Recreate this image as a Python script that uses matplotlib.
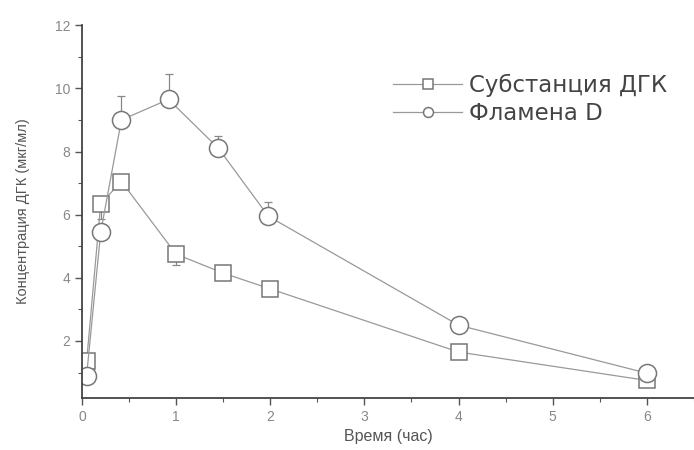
import matplotlib
matplotlib.use("Agg")
import matplotlib.pyplot as plt
from matplotlib.ticker import MultipleLocator

plt.rcParams['font.family'] = ['Liberation Sans', 'DejaVu Sans']

time_sub = [0.05, 0.2, 0.42, 1.0, 1.5, 2.0, 4.0, 6.0]
conc_sub = [1.35, 6.35, 7.05, 4.75, 4.15, 3.65, 1.65, 0.75]
err_sub = [0.0, 0.5, 0.0, 0.35, 0.0, 0.0, 0.0, 0.0]

time_fl = [0.05, 0.2, 0.42, 0.92, 1.45, 1.98, 4.0, 6.0]
conc_fl = [0.9, 5.45, 9.0, 9.65, 8.1, 5.95, 2.5, 0.98]
err_fl = [0.0, 0.0, 0.75, 0.8, 0.4, 0.45, 0.0, 0.0]

labels = ["Субстанция ДГК", "Фламена D"]
xticks = [0, 1, 2, 3, 4, 5, 6]
yticks = [2, 4, 6, 8, 10, 12]

fig = plt.figure(figsize=(6.94, 4.5), dpi=100)
ax = fig.add_axes([0.118, 0.116, 0.882, 0.828])

gray = '#888888'
dark = '#555555'

ax.errorbar(time_sub, conc_sub, yerr=[err_sub, [0]*len(err_sub)], fmt='none',
            ecolor=gray, elinewidth=0.9, capsize=3, capthick=0.9)
ax.errorbar(time_fl, conc_fl, yerr=[[0]*len(err_fl), err_fl], fmt='none',
            ecolor=gray, elinewidth=0.9, capsize=3, capthick=0.9)

ax.plot(time_sub, conc_sub, color='#999999', lw=0.9, marker='s', markersize=12,
        markerfacecolor='white', markeredgecolor='#777777', markeredgewidth=1.1,
        label=labels[0])
ax.plot(time_fl, conc_fl, color='#999999', lw=0.9, marker='o', markersize=13,
        markerfacecolor='white', markeredgecolor='#777777', markeredgewidth=1.1,
        label=labels[1])

ax.set_xlim(0, 6.5)
ax.set_ylim(0.2, 12)
ax.set_xticks(xticks)
ax.set_yticks(yticks)
ax.xaxis.set_minor_locator(MultipleLocator(0.5))
ax.yaxis.set_minor_locator(MultipleLocator(1))
ax.tick_params(axis='both', which='major', direction='out', length=5, width=1,
               colors=dark, labelcolor='#888888', labelsize=10)
ax.tick_params(axis='both', which='minor', direction='out', length=3, width=0.8,
               colors=dark)
for s in ['top', 'right']:
    ax.spines[s].set_visible(False)
for s in ['left', 'bottom']:
    ax.spines[s].set_color('#444444')
    ax.spines[s].set_linewidth(1.3)

ax.set_xlabel("Время (час)", fontsize=11.5, color=dark, labelpad=4)
ax.set_ylabel("Концентрация ДГК (мкг/мл)", fontsize=10.5, color=dark, labelpad=18)

leg = ax.legend(loc='upper left', bbox_to_anchor=(0.475, 0.925), frameon=False,
                prop={'family': ['DejaVu Sans'], 'size': 16.5},
                handlelength=3.0, handletextpad=0.3,
                labelspacing=0.2, markerscale=0.55, labelcolor='#444444')

fig.savefig("out.png", dpi=100)
